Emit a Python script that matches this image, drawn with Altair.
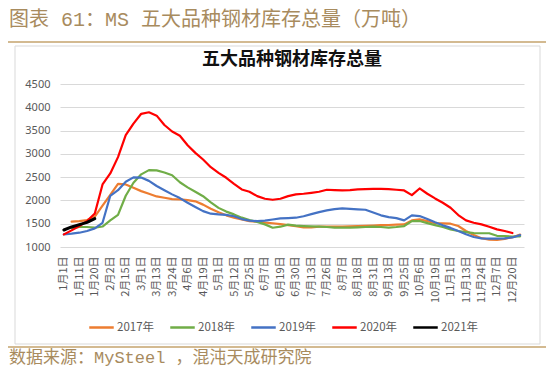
import altair as alt
import pandas as pd

# ---------------- data ----------------
x_labels = ["1月1日", "1月11日", "1月20日", "2月2日", "2月15日", "3月1日", "3月13日",
            "3月24日", "4月6日", "4月19日", "5月1日", "5月12日", "5月25日", "6月7日",
            "6月19日", "6月30日", "7月13日", "7月26日", "8月7日", "8月18日", "8月31日",
            "9月13日", "9月25日", "10月6日", "10月19日", "11月1日", "11月13日",
            "11月24日", "12月7日", "12月20日"]

series_names = ["2017年", "2018年", "2019年", "2020年", "2021年"]
series_colors = ["#ED7D31", "#70AD47", "#4472C4", "#FF0000", "#000000"]

s2017 = [None, 1543, 1557, 1579, 1650, 1890, 2120, 2357, 2343, 2271,
         2200, 2143, 2086, 2057, 2029, 2021, 2005, 1980, 1910, 1820,
         1745, 1680, 1630, 1593, 1557, 1545, 1525, 1510, 1490, 1470,
         1445, 1420, 1420, 1436, 1436, 1436, 1438, 1442, 1448, 1455,
         1460, 1468, 1472, 1480, 1486, 1570, 1593, 1555, 1510, 1507,
         1500, 1450, 1343, 1257, 1190, 1160, 1150, 1175, 1210, 1265]

s2018 = [None, 1400, 1429, 1429, 1414, 1440, 1570, 1690, 2100, 2380,
         2560, 2650, 2645, 2600, 2540, 2390, 2280, 2186, 2090, 1960,
         1840, 1760, 1700, 1630, 1580, 1540, 1486, 1414, 1436, 1480,
         1460, 1450, 1443, 1436, 1429, 1414, 1414, 1414, 1420, 1429,
         1436, 1429, 1414, 1429, 1450, 1557, 1557, 1514, 1471, 1429,
         1379, 1343, 1321, 1300, 1295, 1295, 1240, 1235, 1225, 1230]

s2019 = [1271, 1286, 1307, 1343, 1400, 1520, 2100, 2220, 2400, 2495,
         2490, 2420, 2310, 2220, 2130, 2050, 1950, 1860, 1770, 1715,
         1700, 1690, 1660, 1600, 1565, 1555, 1565, 1590, 1614, 1620,
         1629, 1660, 1705, 1750, 1786, 1815, 1829, 1820, 1810, 1800,
         1740, 1680, 1640, 1620, 1571, 1680, 1664, 1600, 1530, 1465,
         1410, 1345, 1275, 1215, 1185, 1180, 1180, 1185, 1205, 1255]

s2020 = [1271, 1357, 1450, 1557, 1720, 2343, 2580, 2930, 3400, 3650,
         3860, 3893, 3820, 3620, 3480, 3390, 3186, 3021, 2879, 2714,
         2593, 2486, 2357, 2236, 2186, 2093, 2036, 2014, 2036, 2093,
         2129, 2143, 2164, 2186, 2229, 2221, 2214, 2221, 2236, 2243,
         2250, 2250, 2243, 2229, 2214, 2114, 2257, 2143, 2043, 1950,
         1843, 1686, 1571, 1521, 1486, 1436, 1379, 1343, 1300]

s2021 = [1365, 1430, 1480, 1530, 1610]

y_ticks = [1000, 1500, 2000, 2500, 3000, 3500, 4000, 4500]

outer_title = "图表 61：MS 五大品种钢材库存总量（万吨）"
inner_title = "五大品种钢材库存总量"
source_text = "数据来源：MySteel ，混沌天成研究院"

rows = []
for name, vals in zip(series_names, [s2017, s2018, s2019, s2020, s2021]):
    for i, v in enumerate(vals):
        if v is not None:
            rows.append({"i": i, "v": v, "series": name})
df = pd.DataFrame(rows)

# ---------------- layout ----------------
W, H = 464, 163
PAD = {"left": 52, "top": 76, "right": 22, "bottom": 125}
CJK = "Noto Sans CJK SC"
MONO_CJK = "Liberation Mono, Noto Sans CJK SC"
BROWN = "#A88B5E"
TAN = "#C4A36C"
GRAY = "#595959"

label_expr = "[" + ",".join("'" + s + "'" for s in x_labels) + "][datum.value / 2]"

x_enc = alt.X("i:Q",
              scale=alt.Scale(domain=[-0.5, 59.5], nice=False, zero=False),
              axis=alt.Axis(values=list(range(0, 60, 2)), labelExpr=label_expr,
                            labelAngle=-90, grid=False, domain=False, ticks=False,
                            labelPadding=9, labelOverlap=False, labelFlush=False,
                            labelBound=False, labelFontSize=11, labelColor=GRAY,
                            labelFont=CJK, title=None))
y_enc = alt.Y("v:Q",
              scale=alt.Scale(domain=[1000, 4500], nice=False, zero=False),
              axis=alt.Axis(values=y_ticks, format="d", grid=True, gridColor="#d9d9d9",
                            gridWidth=1, domain=False, ticks=False, labelPadding=10,
                            labelFontSize=11, labelColor=GRAY, labelFont="Noto Sans",
                            title=None))
color_enc = alt.Color("series:N",
                      scale=alt.Scale(domain=series_names, range=series_colors),
                      legend=alt.Legend(title=None, orient="none", legendX=28, legendY=230,
                                        direction="horizontal", symbolType="stroke",
                                        symbolSize=600, symbolStrokeWidth=2.5,
                                        labelFontSize=11.5, labelColor=GRAY, labelFont=CJK,
                                        columnPadding=10, labelOffset=2))

base = alt.Chart(df)
lines_old = base.transform_filter(alt.datum.series != "2021年").mark_line(
    strokeWidth=2.2, strokeJoin="round", strokeCap="round").encode(
    x=x_enc, y=y_enc, color=color_enc)
line_new = base.transform_filter(alt.datum.series == "2021年").mark_line(
    strokeWidth=3, strokeJoin="round", strokeCap="round").encode(
    x=x_enc, y=y_enc, color=color_enc)

one = pd.DataFrame({"k": [0]})

box = alt.Chart(one).mark_rect(fill="transparent", stroke="#d9d9d9", strokeWidth=1).encode(
    x=alt.value(-45), x2=alt.value(480), y=alt.value(-38), y2=alt.value(260))

top_rule = alt.Chart(one).mark_rule(color=TAN, strokeWidth=1.5).encode(
    x=alt.value(-52), x2=alt.value(486), y=alt.value(-42))
bottom_rule = alt.Chart(one).mark_rule(color=TAN, strokeWidth=1.5).encode(
    x=alt.value(-52), x2=alt.value(486), y=alt.value(263))

t_outer = alt.Chart(pd.DataFrame({"t": [outer_title]})).mark_text(
    align="left", baseline="middle", font=MONO_CJK, fontSize=20, color=BROWN).encode(
    x=alt.value(-51), y=alt.value(-64), text="t:N")
t_inner = alt.Chart(pd.DataFrame({"t": [inner_title]})).mark_text(
    align="center", baseline="middle", font=CJK, fontSize=18, fontWeight="bold",
    color="#111111").encode(x=alt.value(W / 2), y=alt.value(-24), text="t:N")
t_source = alt.Chart(pd.DataFrame({"t": [source_text]})).mark_text(
    align="left", baseline="middle", font=MONO_CJK, fontSize=17, color=BROWN).encode(
    x=alt.value(-51), y=alt.value(274), text="t:N")

chart = alt.layer(box, top_rule, bottom_rule, t_outer, t_inner, t_source,
                  lines_old, line_new).properties(
    width=W, height=H, padding=PAD,
    autosize=alt.AutoSizeParams(type="none")
).configure_view(stroke=None)

chart.save("out.html", embed_options={"renderer": "svg", "actions": False})
